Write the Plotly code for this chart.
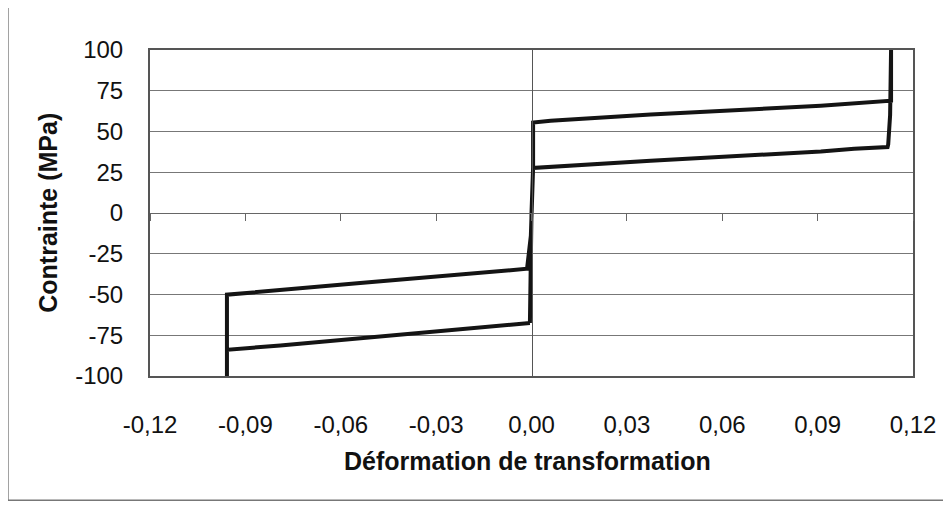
import plotly.graph_objects as go

# Hysteresis loop path (strain, stress in MPa)
strain = [-0.0005, -0.0003, -0.0002, 0.0000, 0.0005, 0.0005,
          0.006, 0.016, 0.026, 0.0375, 0.091, 0.1036, 0.1131,
          0.1131, 0.1128, 0.1122, 0.1120,
          0.1015, 0.091, 0.0375, 0.0243, 0.0148, 0.005, 0.0005,
          -0.0002, -0.0014,
          -0.0539, -0.0675, -0.0817, -0.0885, -0.0958,
          -0.0958, -0.0958,
          -0.0790, -0.0600, -0.0476, -0.0098, -0.0019, -0.0005]
stress = [-67.5, -34.2, -14.0, 0.0, 27.6, 55.5,
          56.6, 57.9, 59.2, 60.4, 65.8, 67.6, 68.9,
          100.0, 60.0, 42.0, 40.5,
          39.4, 37.8, 32.0, 30.5, 29.3, 28.3, 27.6,
          -14.0, -34.2,
          -43.0, -45.5, -47.8, -49.0, -50.1,
          -100.0, -83.9,
          -81.3, -78.0, -76.0, -69.3, -67.5, -67.5]

x_ticks = [-0.12, -0.09, -0.06, -0.03, 0.0, 0.03, 0.06, 0.09, 0.12]
x_tick_labels = ["-0,12", "-0,09", "-0,06", "-0,03", "0,00", "0,03", "0,06", "0,09", "0,12"]
y_ticks = [-100, -75, -50, -25, 0, 25, 50, 75, 100]
y_tick_labels = ["-100", "-75", "-50", "-25", "0", "25", "50", "75", "100"]

FONT = "Liberation Sans, Arial, sans-serif"

fig = go.Figure()
fig.add_trace(go.Scatter(x=strain, y=stress, mode="lines",
                         line=dict(color="#141414", width=4),
                         showlegend=False, xaxis="x", yaxis="y"))
# invisible helper trace so the zero-crossing axes render
fig.add_trace(go.Scatter(x=[0], y=[0], mode="markers", marker=dict(opacity=0),
                         showlegend=False, hoverinfo="skip", xaxis="x2", yaxis="y2"))

fig.update_layout(
    width=951, height=506,
    margin=dict(l=142, r=46, t=42, b=138),
    paper_bgcolor="white", plot_bgcolor="white",
    font=dict(family=FONT, color="#111111"),
    xaxis=dict(range=[-0.12, 0.12], tickvals=x_ticks, ticktext=x_tick_labels,
               showgrid=False, zeroline=False, ticks="", ticklabelstandoff=26,
               showline=True, linecolor="#555555", linewidth=2, mirror=True,
               tickfont=dict(size=24, family=FONT)),
    yaxis=dict(range=[-100, 100], tickvals=y_ticks, ticktext=y_tick_labels,
               showgrid=True, gridcolor="#777777", gridwidth=1, zeroline=False,
               ticks="", ticklabelstandoff=20,
               showline=True, linecolor="#555555", linewidth=2, mirror=True,
               tickfont=dict(size=24, family=FONT)),
    xaxis2=dict(range=[-0.12, 0.12], overlaying="x", anchor="free", position=0.5,
                tickvals=x_ticks, showticklabels=False, ticks="outside", ticklen=7,
                tickcolor="#666666", tickwidth=1, showline=True, linecolor="#666666",
                linewidth=1, showgrid=False, zeroline=False),
    yaxis2=dict(range=[-100, 100], overlaying="y", anchor="free", position=0.5,
                tickvals=y_ticks, showticklabels=False, ticks="", showline=True,
                linecolor="#555555", linewidth=1, showgrid=False, zeroline=False),
    annotations=[
        dict(text="<b>Déformation de transformation</b>", xref="paper", yref="paper",
             x=0.495, y=-0.262, showarrow=False, xanchor="center", yanchor="middle",
             font=dict(size=25, family=FONT, color="#111111")),
        dict(text="<b>Contrainte (MPa)</b>", xref="paper", yref="paper",
             x=-0.134, y=0.5, showarrow=False, xanchor="center", yanchor="middle",
             textangle=-90, font=dict(size=25, family=FONT, color="#111111")),
    ],
    shapes=[
        dict(type="rect", xref="paper", yref="paper",
             x0=-0.1862, x1=1.06, y0=-0.381, y1=1.135,
             line=dict(color="#777777", width=1.5), fillcolor="rgba(0,0,0,0)", layer="below"),
    ],
)

fig.write_html("out.html")
